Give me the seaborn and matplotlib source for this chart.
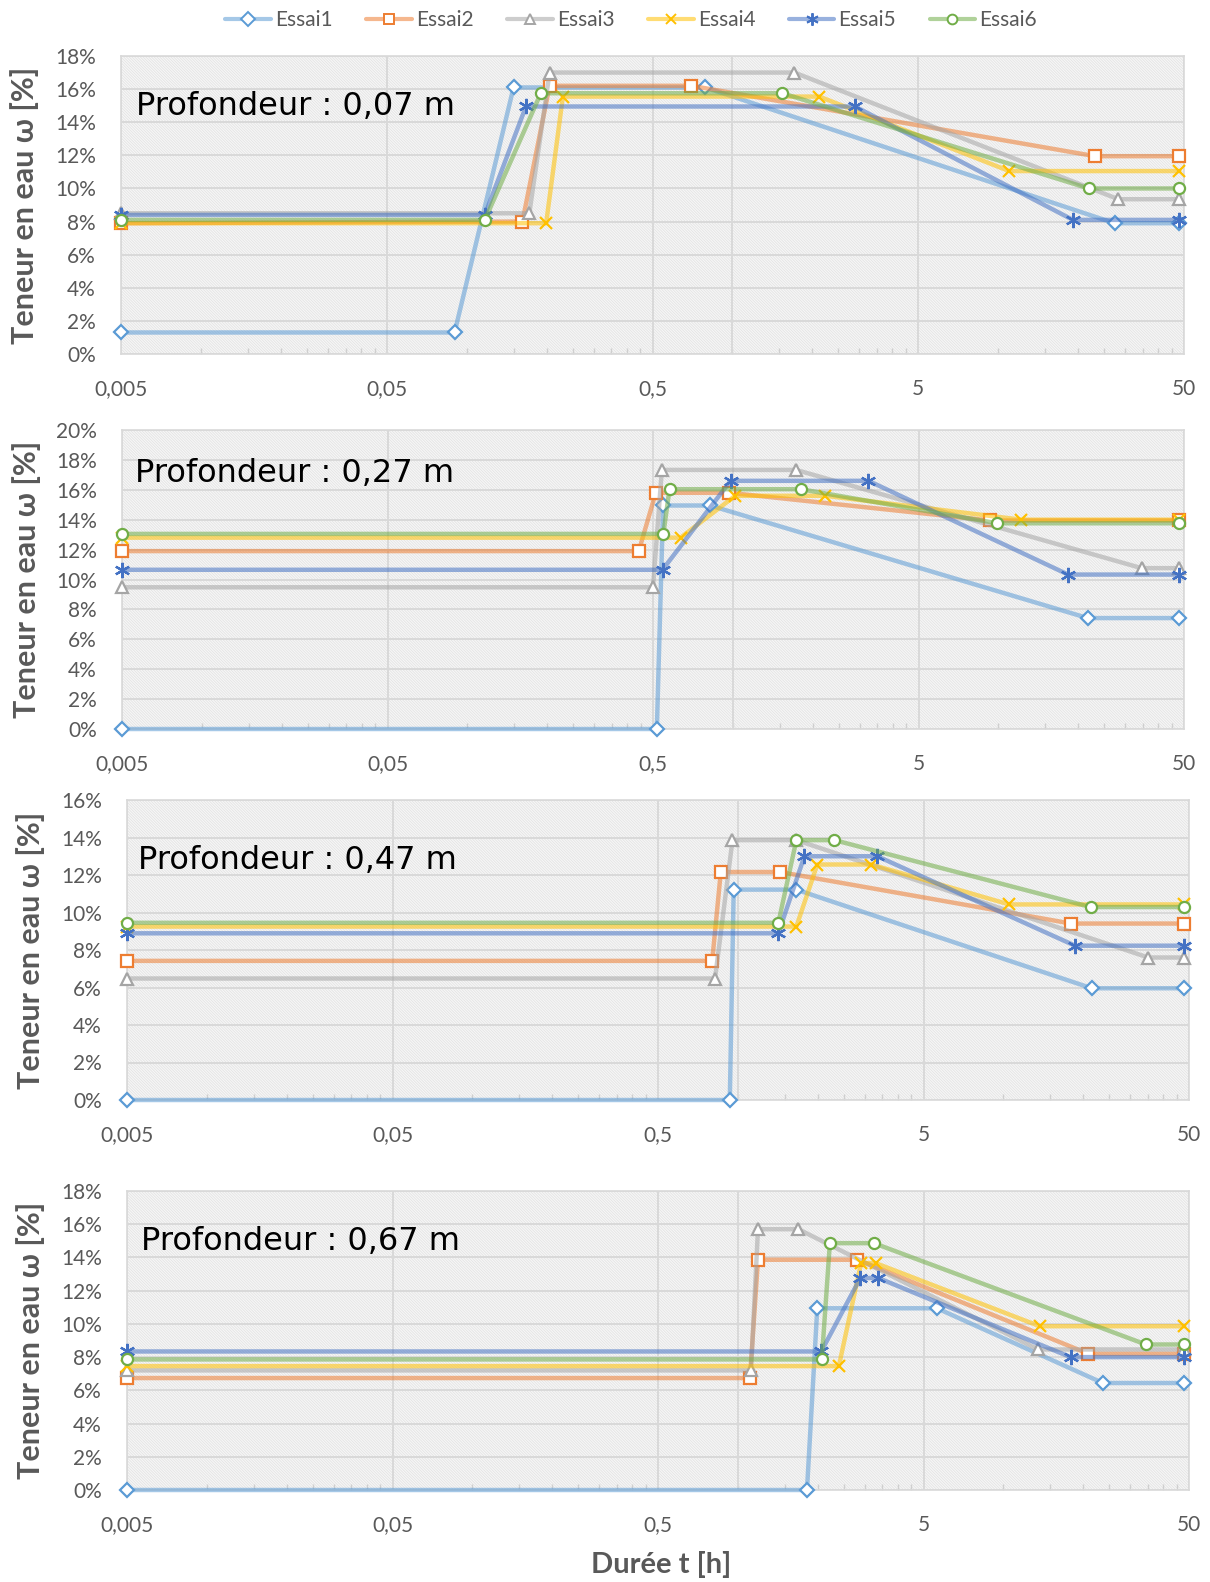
import matplotlib

matplotlib.use("Agg")

import matplotlib.pyplot as plt
import numpy as np
import pandas as pd
import seaborn as sns
from matplotlib.colors import to_rgba
from matplotlib.lines import Line2D
from matplotlib.patches import Rectangle
from matplotlib.ticker import FixedLocator, FuncFormatter, NullFormatter


ESSAIS = ["Essai1", "Essai2", "Essai3", "Essai4", "Essai5", "Essai6"]

COLORS = ["#5B9BD5", "#ED7D31", "#A5A5A5", "#FFC000", "#4472C4", "#70AD47"]

MARKERS = ["D", "s", "^", "x", (6, 2, 0), "o"]

MARKER_SIZES = [7, 8, 8, 9, 11, 8]

DEPTHS = ["0,07", "0,27", "0,47", "0,67"]

Y_MAX = [18, 20, 16, 18]

X_TICKS = [0.005, 0.05, 0.5, 5, 50]

X_TICK_LABELS = ["0,005", "0,05", "0,5", "5", "50"]

# durée t [h] / teneur en eau [%] par essai, profondeur 0,07 m
T_007 = [
    [0.005, 0.09, 0.15, 0.79, 27.4, 48],
    [0.005, 0.162, 0.205, 0.70, 23.1, 48],
    [0.005, 0.172, 0.205, 1.71, 28.3, 48],
    [0.005, 0.199, 0.23, 2.12, 11.0, 48],
    [0.005, 0.117, 0.167, 2.89, 19.1, 48],
    [0.005, 0.117, 0.19, 1.54, 21.9, 48],
]
W_007 = [
    [1.3, 1.3, 16.1, 16.1, 7.9, 7.9],
    [7.9, 8.0, 16.2, 16.2, 11.95, 11.95],
    [8.5, 8.5, 17.0, 17.0, 9.35, 9.35],
    [7.9, 7.9, 15.55, 15.55, 11.05, 11.05],
    [8.4, 8.4, 14.95, 14.95, 8.1, 8.1],
    [8.1, 8.1, 15.75, 15.75, 10.0, 10.0],
]

# profondeur 0,27 m
T_027 = [
    [0.005, 0.517, 0.546, 0.82, 21.7, 48],
    [0.005, 0.442, 0.512, 0.97, 9.26, 48],
    [0.005, 0.5, 0.54, 1.73, 34.6, 48],
    [0.005, 0.635, 1.02, 2.23, 12.2, 48],
    [0.005, 0.543, 0.98, 3.24, 18.3, 48],
    [0.005, 0.547, 0.577, 1.80, 9.9, 48],
]
W_027 = [
    [0.0, 0.0, 14.95, 14.95, 7.42, 7.42],
    [11.9, 11.9, 15.8, 15.8, 13.95, 13.95],
    [9.48, 9.48, 17.33, 17.33, 10.76, 10.76],
    [12.8, 12.8, 15.6, 15.6, 14.0, 14.0],
    [10.65, 10.65, 16.6, 16.6, 10.33, 10.33],
    [13.05, 13.05, 16.04, 16.04, 13.76, 13.76],
]

# profondeur 0,47 m
T_047 = [
    [0.005, 0.932, 0.964, 1.66, 21.5, 48],
    [0.005, 0.80, 0.862, 1.44, 18.0, 48],
    [0.005, 0.82, 0.954, 1.66, 35.1, 48],
    [0.005, 1.66, 1.99, 3.18, 10.5, 48],
    [0.005, 1.42, 1.78, 3.35, 18.6, 48],
    [0.005, 1.42, 1.66, 2.31, 21.3, 48],
]
W_047 = [
    [0.0, 0.0, 11.22, 11.22, 5.96, 5.96],
    [7.42, 7.42, 12.16, 12.16, 9.41, 9.41],
    [6.48, 6.48, 13.86, 13.86, 7.6, 7.6],
    [9.25, 9.25, 12.56, 12.56, 10.43, 10.43],
    [8.89, 8.89, 13.0, 13.0, 8.23, 8.23],
    [9.45, 9.45, 13.86, 13.86, 10.29, 10.29],
]

# profondeur 0,67 m
T_067 = [
    [0.005, 1.82, 1.99, 5.62, 23.7, 48],
    [0.005, 1.11, 1.19, 2.82, 20.9, 48],
    [0.005, 1.12, 1.19, 1.69, 13.5, 48],
    [0.005, 2.4, 2.91, 3.3, 13.7, 48],
    [0.005, 2.06, 2.89, 3.38, 17.9, 48],
    [0.005, 2.07, 2.22, 3.25, 34.4, 48],
]
W_067 = [
    [0.0, 0.0, 10.94, 10.94, 6.44, 6.44],
    [6.74, 6.74, 13.86, 13.86, 8.2, 8.2],
    [7.2, 7.2, 15.7, 15.7, 8.46, 8.46],
    [7.46, 7.46, 13.66, 13.66, 9.86, 9.86],
    [8.34, 8.34, 12.76, 12.76, 8.0, 8.0],
    [7.86, 7.86, 14.86, 14.86, 8.76, 8.76],
]

PANELS = [(T_007, W_007), (T_027, W_027), (T_047, W_047), (T_067, W_067)]

# plot areas in pixels: left, top, right, bottom
AXES_PX = [
    (121, 56, 1184, 354),
    (122, 430, 1184, 729),
    (127, 800, 1189, 1100),
    (127, 1191, 1189, 1490),
]

LABEL_POS = [(0.014, 0.832), (0.012, 0.853), (0.010, 0.800), (0.013, 0.830)]

YLABEL_X = [25, 27, 31, 31]

FIG_W, FIG_H = 1210, 1582

TEXT_GRAY = "#595959"
GRID_GRAY = "#d9d9d9"

sns.set_theme(style="white")
plt.rcParams["font.family"] = ["Lato", "DejaVu Sans"]
plt.rcParams["hatch.linewidth"] = 0.6

figure = plt.figure(figsize=(FIG_W / 100, FIG_H / 100), dpi=100)

minor_ticks = [
    major * k
    for major in X_TICKS[:-1]
    for k in range(2, 10)
]

for index, (times, values) in enumerate(PANELS):

    left, top, right, bottom = AXES_PX[index]

    axis = figure.add_axes(
        [
            left / FIG_W,
            1 - bottom / FIG_H,
            (right - left) / FIG_W,
            (bottom - top) / FIG_H,
        ]
    )

    axis.set_facecolor("#f7f7f7")

    axis.add_patch(
        Rectangle(
            (0, 0),
            1,
            1,
            transform=axis.transAxes,
            facecolor="none",
            edgecolor="#e3e3e3",
            hatch="\\" * 12,
            linewidth=0,
            zorder=0,
        )
    )

    for essai_index, essai in enumerate(ESSAIS):

        frame = pd.DataFrame(
            {
                "t": times[essai_index],
                "w": values[essai_index],
            }
        )

        color = COLORS[essai_index]

        marker = MARKERS[essai_index]

        sns.lineplot(
            data=frame,
            x="t",
            y="w",
            color=color,
            alpha=0.55,
            linewidth=3.2,
            estimator=None,
            sort=False,
            ax=axis,
            zorder=3 + essai_index,
            clip_on=False,
        )

        filled = marker not in ("x", (6, 2, 0))

        axis.plot(
            frame["t"],
            frame["w"],
            linestyle="none",
            marker=marker,
            markersize=MARKER_SIZES[essai_index],
            markerfacecolor="white" if filled else color,
            markeredgecolor=color,
            markeredgewidth=1.6,
            zorder=3.5 + essai_index,
            clip_on=False,
        )

    axis.set_xscale("log")

    axis.set_xlim(0.005, 50)

    axis.set_ylim(0, Y_MAX[index])

    axis.xaxis.set_major_locator(FixedLocator(X_TICKS))

    axis.xaxis.set_major_formatter(
        FuncFormatter(lambda value, pos: X_TICK_LABELS[pos] if pos is not None and pos < len(X_TICK_LABELS) else "")
    )

    axis.xaxis.set_minor_locator(FixedLocator(minor_ticks))

    axis.xaxis.set_minor_formatter(NullFormatter())

    axis.set_yticks(np.arange(0, Y_MAX[index] + 1, 2))

    axis.yaxis.set_major_formatter(FuncFormatter(lambda value, pos: f"{int(round(value))}%"))

    axis.tick_params(
        axis="both",
        which="major",
        length=0,
        labelsize=15,
        labelcolor=TEXT_GRAY,
        pad=18,
    )

    axis.tick_params(
        axis="x",
        which="minor",
        direction="in",
        length=4,
        width=1,
        color="#cfcfcf",
        bottom=True,
    )

    axis.grid(
        True,
        which="major",
        color=GRID_GRAY,
        linewidth=1.4,
    )

    axis.axvline(
        1,
        color=GRID_GRAY,
        linewidth=1.4,
        zorder=1,
    )

    for spine in axis.spines.values():

        spine.set_color(GRID_GRAY)

        spine.set_linewidth(1.2)

    axis.set_xlabel("")

    axis.set_ylabel("")

    axis.text(
        LABEL_POS[index][0],
        LABEL_POS[index][1],
        f"Profondeur : {DEPTHS[index]} m",
        transform=axis.transAxes,
        fontsize=23,
        family="DejaVu Sans",
        color="black",
        ha="left",
        va="center",
        zorder=20,
    )

    figure.text(
        YLABEL_X[index] / FIG_W,
        1 - (top + bottom) / 2 / FIG_H,
        "Teneur en eau ω [%]",
        rotation=90,
        ha="center",
        va="center",
        fontsize=22,
        fontweight="bold",
        color=TEXT_GRAY,
    )

figure.text(
    661 / FIG_W,
    1 - 1565 / FIG_H,
    "Durée t [h]",
    ha="center",
    va="center",
    fontsize=21,
    fontweight="bold",
    color=TEXT_GRAY,
)

handles = [
    Line2D(
        [0],
        [0],
        color=to_rgba(color, 0.55),
        linewidth=3.0,
        marker=marker,
        markersize=7 if marker != (6, 2, 0) else 9,
        markerfacecolor="white" if marker not in ("x", (6, 2, 0)) else color,
        markeredgecolor=color,
        markeredgewidth=1.4,
    )
    for color, marker in zip(COLORS, MARKERS)
]

figure.legend(
    handles,
    ESSAIS,
    loc="center",
    bbox_to_anchor=(631 / FIG_W, 1 - 20 / FIG_H),
    ncol=6,
    frameon=False,
    fontsize=15,
    labelcolor=TEXT_GRAY,
    handlelength=2.2,
    handletextpad=0.2,
    columnspacing=1.6,
)

figure.savefig("out.png", dpi=100)

plt.close(figure)
